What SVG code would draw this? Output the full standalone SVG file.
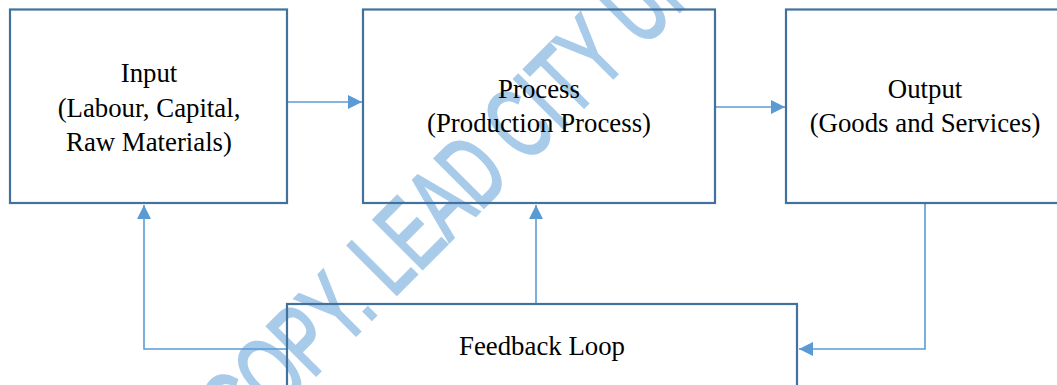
<svg xmlns="http://www.w3.org/2000/svg" width="1057" height="385" viewBox="0 0 1057 385">
  <style>
    .box { fill: none; stroke: #41719C; stroke-width: 2.2; }
    .label { font-family: "Liberation Serif", "Times New Roman", serif; font-size: 26.8px; fill: #000; text-anchor: middle; }
    .link { fill: none; stroke: #5B9BD5; stroke-width: 1.6; }
    .mark { font-family: "Liberation Sans", Arial, sans-serif; font-size: 100px; fill: #A9CBEA; stroke: #A9CBEA; stroke-width: 3; }
  </style>
  <defs>
    <marker id="arrow" markerUnits="userSpaceOnUse" markerWidth="14" markerHeight="14" refX="14" refY="7" orient="auto">
      <path d="M0,0 L14,7 L0,14 Z" fill="#5B9BD5"/>
    </marker>
  </defs>

  <rect width="1057" height="385" fill="#fff"/>

  <!-- diagonal watermark -->
  <g id="watermark">
    <text class="mark" transform="translate(243,448) rotate(-45) scale(0.65,1)">COPY. LEAD CITY UNIVERSITY</text>
  </g>

  <!-- connectors -->
  <g id="connectors">
    <line class="link" x1="288" y1="102" x2="362" y2="102" marker-end="url(#arrow)"/>
    <line class="link" x1="716" y1="107" x2="785" y2="107" marker-end="url(#arrow)"/>
    <polyline class="link" points="287,349 144,349 144,205" marker-end="url(#arrow)"/>
    <line class="link" x1="536" y1="303" x2="536" y2="205" marker-end="url(#arrow)"/>
    <polyline class="link" points="925,204 925,349 799,349" marker-end="url(#arrow)"/>
  </g>

  <g id="node-input">
    <rect class="box" x="10" y="9.5" width="277" height="193.5"/>
    <text class="label" x="149" y="82">Input</text>
    <text class="label" x="149" y="116.5">(Labour, Capital,</text>
    <text class="label" x="149" y="151">Raw Materials)</text>
  </g>

  <g id="node-process">
    <rect class="box" x="363" y="9.5" width="352" height="193.5"/>
    <text class="label" x="539" y="98">Process</text>
    <text class="label" x="539" y="132">(Production Process)</text>
  </g>

  <g id="node-output">
    <rect class="box" x="786" y="9.5" width="278" height="193.5"/>
    <text class="label" x="925" y="98">Output</text>
    <text class="label" x="925" y="132">(Goods and Services)</text>
  </g>

  <g id="node-feedback">
    <rect class="box" x="287" y="304" width="510" height="120"/>
    <text class="label" x="542" y="355">Feedback Loop</text>
  </g>
</svg>
